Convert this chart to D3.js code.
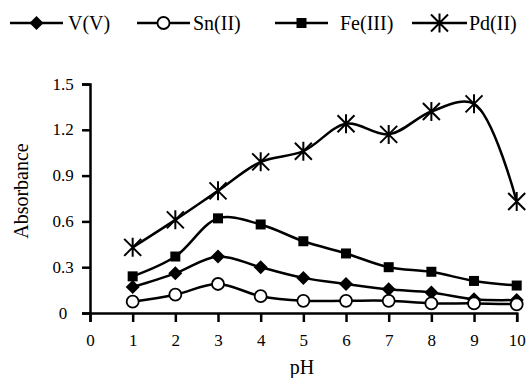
<!DOCTYPE html>
<html><head><meta charset="utf-8">
<script src="https://cdn.jsdelivr.net/npm/d3@7"></script>
<style>body{margin:0;background:#fff}svg{display:block}</style>
</head><body>
<script>
const pH = [1,2,3,4,5,6,7,8,9,10];
const vV  = [0.17,0.26,0.37,0.30,0.23,0.19,0.155,0.135,0.09,0.085];
const snII = [0.074,0.12,0.19,0.11,0.08,0.08,0.08,0.063,0.063,0.057];
const feIII = [0.24,0.37,0.62,0.58,0.47,0.39,0.30,0.27,0.21,0.18];
const pdII = [0.43,0.61,0.80,0.99,1.06,1.24,1.17,1.32,1.37,0.73];
const seriesNames = ["V(V)","Sn(II)","Fe(III)","Pd(II)"];
const xTicks = [0,1,2,3,4,5,6,7,8,9,10];
const yTicks = [0,0.3,0.6,0.9,1.2,1.5];
const yTickLabels = ["0","0.3","0.6","0.9","1.2","1.5"];

const FONT='"Liberation Serif","Times New Roman",serif';
const W=531,H=378;
const svg=d3.select("body").append("svg").attr("width",W).attr("height",H);
const x=d3.scaleLinear().domain([0,10]).range([90,516.7]);
const y=d3.scaleLinear().domain([0,1.5]).range([313,84]);

const series=[
 {name:seriesNames[0],vals:vV,m:"diamond"},
 {name:seriesNames[1],vals:snII,m:"circle"},
 {name:seriesNames[2],vals:feIII,m:"square"},
 {name:seriesNames[3],vals:pdII,m:"star"}
];

function marker(g,type,cx,cy){
  if(type==="diamond") g.append("path").attr("d",`M${cx},${cy-7}L${cx+7},${cy}L${cx},${cy+7}L${cx-7},${cy}Z`).attr("fill","#000");
  else if(type==="square") g.append("rect").attr("x",cx-5).attr("y",cy-5).attr("width",10).attr("height",10).attr("fill","#000");
  else if(type==="circle") g.append("circle").attr("cx",cx).attr("cy",cy).attr("r",6).attr("fill","#fff").attr("stroke","#000").attr("stroke-width",1.8);
  else if(type==="star"){
    const s=8.5;
    g.append("path").attr("d",`M${cx-s},${cy-s}L${cx+s},${cy+s}M${cx-s},${cy+s}L${cx+s},${cy-s}M${cx},${cy-s-1}L${cx},${cy+s+1}`).attr("stroke","#000").attr("stroke-width",2).attr("fill","none");
  }
}

const xAxis=svg.append("g").attr("transform","translate(0,313)")
  .call(d3.axisBottom(x).tickValues(xTicks).tickSize(9).tickPadding(12).tickFormat(d3.format("d")));
xAxis.select(".domain").attr("stroke-width",2.5);
xAxis.selectAll(".tick line").attr("stroke-width",2.5);
xAxis.selectAll("text").style("font-family",FONT).style("font-size","17px").attr("fill","#000");

const yAxis=svg.append("g").attr("transform","translate(90,0)")
  .call(d3.axisLeft(y).tickValues(yTicks).tickSize(8).tickFormat((d,i)=>yTickLabels[i]));
yAxis.select(".domain").attr("stroke-width",2.5);
yAxis.selectAll(".tick line").attr("stroke-width",2.5);
yAxis.selectAll("text").style("font-family",FONT).style("font-size","17px").attr("fill","#000")
  .attr("text-anchor","middle").attr("x",-27).attr("dy","0.3em");

svg.append("text").attr("x",302).attr("y",374).attr("text-anchor","middle")
  .style("font-family",FONT).style("font-size","20px").text("pH");
svg.append("text").attr("transform","translate(28,191) rotate(-90)").attr("text-anchor","middle")
  .style("font-family",FONT).style("font-size","20px").text("Absorbance");

const line=d3.line().x((d,i)=>x(pH[i])).y(d=>y(d)).curve(d3.curveCatmullRom.alpha(0.5));
series.forEach(s=>{
  svg.append("path").attr("d",line(s.vals)).attr("fill","none").attr("stroke","#000").attr("stroke-width",2.5);
});
series.forEach(s=>{
  const g=svg.append("g");
  s.vals.forEach((v,i)=>marker(g,s.m,x(pH[i]),y(v)));
});

const leg=[{x1:10,x2:63,tx:68},{x1:137,x2:190,tx:193},{x1:275,x2:328,tx:340},{x1:412,x2:467,tx:469}];
series.forEach((s,i)=>{
  const L=leg[i],g=svg.append("g");
  g.append("line").attr("x1",L.x1).attr("x2",L.x2).attr("y1",23).attr("y2",23).attr("stroke","#000").attr("stroke-width",2.5);
  marker(g,s.m,(L.x1+L.x2)/2,23);
  g.append("text").attr("x",L.tx).attr("y",30).style("font-family",FONT).style("font-size","20px").text(s.name);
});
</script>
</body></html>
